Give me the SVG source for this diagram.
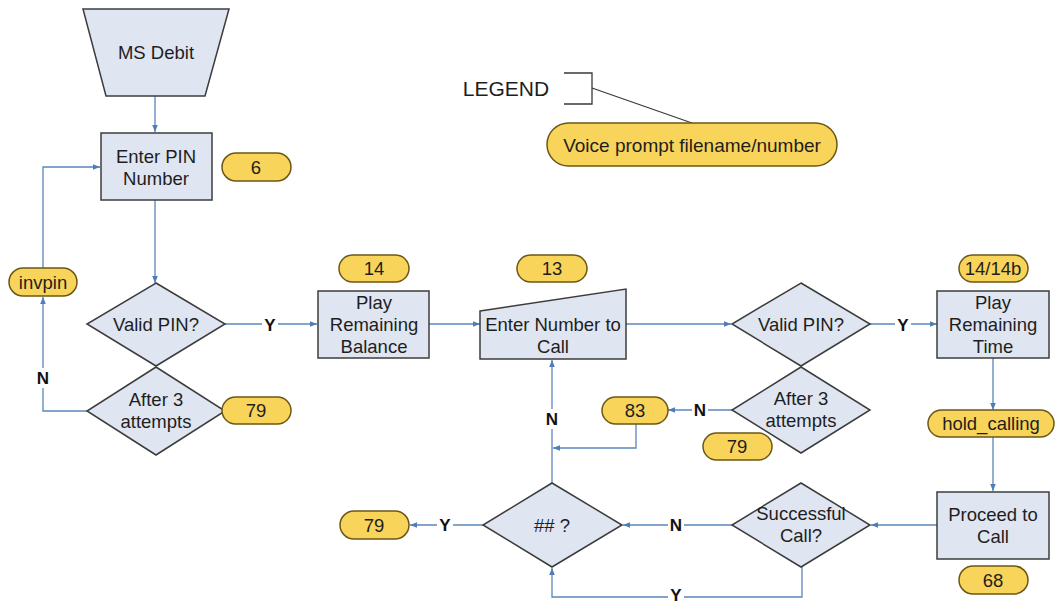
<svg xmlns="http://www.w3.org/2000/svg" width="1056" height="605" viewBox="0 0 1056 605">
<defs>
<marker id="arr" viewBox="0 0 10 10" refX="10" refY="5" markerWidth="7" markerHeight="7" orient="auto" markerUnits="userSpaceOnUse">
<path d="M0,1 L10,5 L0,9 z" fill="#4f7db5"/>
</marker>
<style>
.node{fill:#dfe5f1;stroke:#3c3c3c;stroke-width:1.5}
.pill{fill:#f9d45a;stroke:#6b5716;stroke-width:1.5}
.t{font-family:"Liberation Sans",Arial,sans-serif;font-size:18.5px;fill:#1e1e1e;text-anchor:middle;dominant-baseline:central}
.lbl{font-family:"Liberation Sans",Arial,sans-serif;font-size:17px;font-weight:bold;fill:#111;text-anchor:middle;dominant-baseline:central}
.c{fill:none;stroke:#5a86ba;stroke-width:1.3}
.lg{fill:none;stroke:#3a3a3a;stroke-width:1.3}
</style>
</defs>
<rect width="1056" height="605" fill="#ffffff"/>

<g id="connectors">
<path class="c" d="M155,96 V132" marker-end="url(#arr)"/>
<path class="c" d="M155,200 V283" marker-end="url(#arr)"/>
<path class="c" d="M87,411 H43 V297" marker-end="url(#arr)"/>
<path class="c" d="M43,269 V167 H100" marker-end="url(#arr)"/>
<path class="c" d="M225,324 H317" marker-end="url(#arr)"/>
<path class="c" d="M429,324 H480" marker-end="url(#arr)"/>
<path class="c" d="M626,324 H731" marker-end="url(#arr)"/>
<path class="c" d="M870,324 H937" marker-end="url(#arr)"/>
<path class="c" d="M993,358 V410" marker-end="url(#arr)"/>
<path class="c" d="M993,437 V491" marker-end="url(#arr)"/>
<path class="c" d="M937,525 H871" marker-end="url(#arr)"/>
<path class="c" d="M732,525 H623" marker-end="url(#arr)"/>
<path class="c" d="M802,567 V597 H552 V568" marker-end="url(#arr)"/>
<path class="c" d="M483,525 H410" marker-end="url(#arr)"/>
<path class="c" d="M552,483 V360" marker-end="url(#arr)"/>
<path class="c" d="M636,424 V448 H553" marker-end="url(#arr)"/>
<path class="c" d="M732,410 H668" marker-end="url(#arr)"/>
<rect x="262" y="314" width="16" height="20" fill="#fff"/>
<text class="lbl" x="270" y="325">Y</text>
<rect x="895" y="314" width="16" height="20" fill="#fff"/>
<text class="lbl" x="903" y="325">Y</text>
<rect x="35" y="368" width="16" height="20" fill="#fff"/>
<text class="lbl" x="43" y="378">N</text>
<rect x="692" y="400" width="16" height="20" fill="#fff"/>
<text class="lbl" x="700" y="410">N</text>
<rect x="544" y="409" width="16" height="20" fill="#fff"/>
<text class="lbl" x="552" y="419">N</text>
<rect x="668" y="515" width="16" height="20" fill="#fff"/>
<text class="lbl" x="676" y="525">N</text>
<rect x="437" y="515" width="16" height="20" fill="#fff"/>
<text class="lbl" x="445" y="525">Y</text>
<rect x="668" y="588" width="16" height="16" fill="#fff"/>
<text class="lbl" x="676" y="595">Y</text>
</g>

<g id="ms-debit">
<path class="node" d="M83,9 H229 L205,96 H106 Z"/>
<text class="t" x="156" y="52">MS Debit</text>
</g>
<g id="enter-pin">
<rect class="node" x="101" y="133" width="111" height="67"/>
<text class="t" x="156" y="156">Enter PIN</text>
<text class="t" x="156" y="178">Number</text>
</g>
<g id="p-6">
<rect class="pill" x="222" y="153" width="69" height="28" rx="14"/>
<text class="t" x="256" y="167">6</text>
</g>
<g id="valid-pin-1">
<path class="node" d="M156,283 L225,324 L156,366 L87,324 Z"/>
<text class="t" x="156" y="324">Valid PIN?</text>
</g>
<g id="after3-1">
<path class="node" d="M156,367 L225,411 L156,455 L87,411 Z"/>
<text class="t" x="156" y="399">After 3</text>
<text class="t" x="156" y="421">attempts</text>
</g>
<g id="p-79a">
<rect class="pill" x="222" y="397" width="69" height="27" rx="13.5"/>
<text class="t" x="256" y="410">79</text>
</g>
<g id="p-invpin">
<rect class="pill" x="9" y="268" width="68" height="28" rx="14"/>
<text class="t" x="43" y="282">invpin</text>
</g>
<g id="p-14">
<rect class="pill" x="339" y="255" width="70" height="27" rx="13.5"/>
<text class="t" x="374" y="268">14</text>
</g>
<g id="play-balance">
<rect class="node" x="318" y="291" width="111" height="67"/>
<text class="t" x="374" y="302">Play</text>
<text class="t" x="374" y="324">Remaining</text>
<text class="t" x="374" y="346">Balance</text>
</g>
<g id="p-13">
<rect class="pill" x="517" y="255" width="70" height="27" rx="13.5"/>
<text class="t" x="552" y="268">13</text>
</g>
<g id="enter-number">
<path class="node" d="M480,311 L626,289 V359 H480 Z"/>
<text class="t" x="553" y="324">Enter Number to</text>
<text class="t" x="553" y="346">Call</text>
</g>
<g id="valid-pin-2">
<path class="node" d="M801,283 L870,324 L801,366 L732,324 Z"/>
<text class="t" x="801" y="324">Valid PIN?</text>
</g>
<g id="after3-2">
<path class="node" d="M801,367 L870,410 L801,453 L732,410 Z"/>
<text class="t" x="801" y="398">After 3</text>
<text class="t" x="801" y="420">attempts</text>
</g>
<g id="p-83">
<rect class="pill" x="602" y="397" width="66" height="27" rx="13.5"/>
<text class="t" x="635" y="410">83</text>
</g>
<g id="p-79b">
<rect class="pill" x="703" y="433" width="69" height="27" rx="13.5"/>
<text class="t" x="737" y="446">79</text>
</g>
<g id="p-14-14b">
<rect class="pill" x="959" y="255" width="69" height="27" rx="13.5"/>
<text class="t" x="993" y="268">14/14b</text>
</g>
<g id="play-time">
<rect class="node" x="937" y="291" width="112" height="67"/>
<text class="t" x="993" y="302">Play</text>
<text class="t" x="993" y="324">Remaining</text>
<text class="t" x="993" y="346">Time</text>
</g>
<g id="p-hold-calling">
<rect class="pill" x="928" y="410" width="126" height="27" rx="13.5"/>
<text class="t" x="991" y="423">hold_calling</text>
</g>
<g id="proceed">
<rect class="node" x="937" y="492" width="112" height="67"/>
<text class="t" x="993" y="514">Proceed to</text>
<text class="t" x="993" y="536">Call</text>
</g>
<g id="p-68">
<rect class="pill" x="959" y="566" width="69" height="28" rx="14"/>
<text class="t" x="993" y="580">68</text>
</g>
<g id="successful-call">
<path class="node" d="M801,483 L870,525 L801,567 L732,525 Z"/>
<text class="t" x="801" y="513">Successful</text>
<text class="t" x="801" y="535">Call?</text>
</g>
<g id="hash">
<path class="node" d="M552,483 L622,525 L552,567 L483,525 Z"/>
<text class="t" x="552" y="525">## ?</text>
</g>
<g id="p-79c">
<rect class="pill" x="340" y="511" width="69" height="28" rx="14"/>
<text class="t" x="374" y="525">79</text>
</g>

<g id="legend">
<text x="506" y="88" font-family="Liberation Sans, Arial, sans-serif" font-size="21" fill="#1e1e1e" text-anchor="middle" dominant-baseline="central">LEGEND</text>
<path class="lg" d="M564,73 H592 V104 H564"/>
<path class="lg" d="M592,88 L692,123"/>
<rect class="pill" x="547" y="123" width="290" height="43" rx="21.5"/>
<text class="t" x="692" y="145" style="font-size:19px">Voice prompt filename/number</text>
</g>
</svg>
